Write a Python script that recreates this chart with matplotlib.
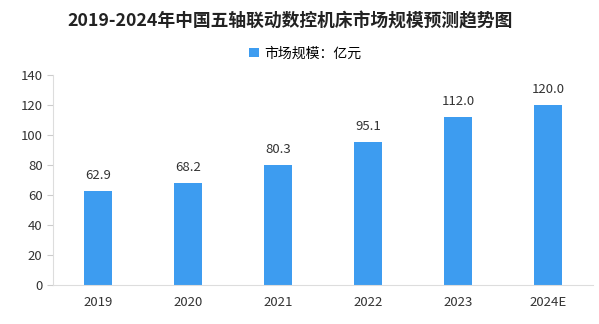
import matplotlib
matplotlib.use('Agg')
import matplotlib.pyplot as plt

plt.rcParams['font.family'] = ['Noto Sans CJK SC', 'DejaVu Sans']

years = ['2019', '2020', '2021', '2022', '2023', '2024E']
values = [62.9, 68.2, 80.3, 95.1, 112.0, 120.0]

fig = plt.figure(figsize=(5.99, 3.24), dpi=100)
ax = fig.add_axes([0.0885, 0.12, 0.9015, 0.6485])

bars = ax.bar(range(len(years)), values, width=0.31, color='#3d9cf0',
              label='市场规模：亿元')
for i, v in enumerate(values):
    ax.text(i, v + 6, f'{v:.1f}', ha='center', va='bottom', fontsize=9.5, color='#333333')

ax.set_xlim(-0.5, len(years) - 0.5)
ax.set_ylim(0, 140)
ax.set_yticks(range(0, 141, 20))
ax.set_xticks(range(len(years)))
ax.set_xticklabels(years)
ax.tick_params(axis='both', labelsize=9.5, colors='#333333')
ax.tick_params(axis='y', length=4, color='#cccccc')
ax.tick_params(axis='x', length=0, pad=8)

for s in ['top', 'right']:
    ax.spines[s].set_visible(False)
ax.spines['left'].set_color('#dddddd')
ax.spines['bottom'].set_color('#dddddd')

fig.text(0.485, 0.935, '2019-2024年中国五轴联动数控机床市场规模预测趋势图',
         ha='center', va='center', fontsize=12.8, fontweight='bold', color='#222222')
fig.legend(handles=[bars], loc='center', bbox_to_anchor=(0.51, 0.835), frameon=False,
           fontsize=10, handlelength=0.7, handleheight=0.7, handletextpad=0.4)

fig.savefig('out.png', dpi=100)
